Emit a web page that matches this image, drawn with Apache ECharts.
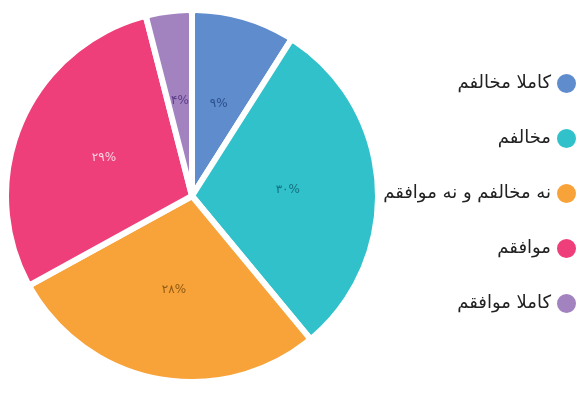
<!DOCTYPE html>
<html><head><meta charset="utf-8">
<script src="https://cdn.jsdelivr.net/npm/echarts@6/dist/echarts.min.js"></script>
<style>html,body{margin:0;padding:0;background:#fff}#c{width:586px;height:394px}</style>
</head><body><div id="c"></div>
<script>
const categories = ['کاملا مخالفم', 'مخالفم', 'نه مخالفم و نه موافقم', 'موافقم', 'کاملا موافقم'];
const values = [9, 30, 28, 29, 4];
const colors = ['#5f8ccc', '#30c1cb', '#f8a23a', '#ee3f7b', '#a283c0'];
const labelColors = ['#2b4f8c', '#14707e', '#8f5a12', '#fcd3e2', '#5b3c86'];

const faDigits = '۰۱۲۳۴۵۶۷۸۹';
const toFa = s => String(s).replace(/[0-9]/g, d => faDigits[d]);

const chart = echarts.init(document.getElementById('c'));
chart.setOption({
  animation: false,
  color: colors,
  legend: {
    orient: 'vertical',
    right: 3,
    top: 67,
    align: 'right',
    icon: 'circle',
    itemWidth: 21,
    itemHeight: 21,
    itemGap: 32,
    textStyle: { fontSize: 18, color: '#222', fontFamily: 'DejaVu Sans' },
    data: categories
  },
  series: [{
    type: 'pie',
    center: [192, 196],
    radius: ['0%', 186],
    startAngle: 90,
    clockwise: true,
    itemStyle: { borderColor: '#fff', borderWidth: 6, borderRadius: 4 },
    label: {
      position: 'inside',
      fontSize: 12,
      fontFamily: 'DejaVu Sans',
      formatter: p => toFa(p.value) + '%'
    },
    labelLine: { show: false },
    data: categories.map((n, i) => ({ name: n, value: values[i], label: { color: labelColors[i] } }))
  }]
});
</script></body></html>
